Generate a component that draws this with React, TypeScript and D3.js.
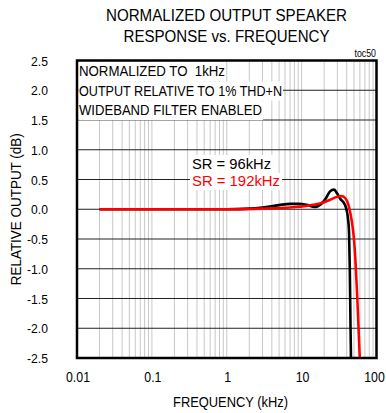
import React from 'react';
import * as d3 from 'd3';

// frequency in kHz, relative output in dB
const FREQ_96 = [0.02, 0.05, 0.1, 0.2, 0.5, 1, 2, 3, 5, 7, 9, 12, 15, 18, 21, 24, 27, 30, 33, 36, 38, 40, 42, 43, 44, 45, 46];
const OUT_96 = [0, 0, 0, 0, 0, 0, 0.01, 0.03, 0.07, 0.09, 0.09, 0.07, 0.04, 0.08, 0.18, 0.3, 0.33, 0.26, 0.17, 0.12, 0.07, -0.02, -0.2, -0.4, -1.0, -2.0, -2.8];

const FREQ_192 = [0.02, 0.05, 0.1, 0.2, 0.5, 1, 3, 7, 12, 18, 24, 30, 34, 38, 42, 45, 48, 50, 52, 55, 58, 60, 62];
const OUT_192 = [0, 0, 0, 0, 0, 0, 0.01, 0.03, 0.06, 0.1, 0.16, 0.21, 0.22, 0.19, 0.08, -0.08, -0.3, -0.5, -0.8, -1.4, -2.1, -2.55, -3.0];

const Y_TICKS = [2.5, 2.0, 1.5, 1.0, 0.5, 0.0, -0.5, -1.0, -1.5, -2.0, -2.5];
const X_TICKS = [0.01, 0.1, 1, 10, 100];
const X_LABELS = ['0.01', '0.1', '1', '10', '100'];
const NOTES = ['NORMALIZED TO  1kHz', 'OUTPUT RELATIVE TO 1% THD+N', 'WIDEBAND FILTER ENABLED'];
const NOTE_WIDTHS = [146, 203, 183];

const W = 386;
const H = 413;
const FONT = '"Liberation Sans", Arial, sans-serif';

// slightly narrow text like the original plot font
const NText: React.FC<{ x: number; y: number; size: number; sx?: number; anchor?: string; fill?: string; children: React.ReactNode }> =
  ({ x, y, size, sx = 0.88, anchor = 'start', fill = '#000', children }) => (
    <text transform={`translate(${x},${y}) scale(${sx},1)`} fontSize={size} textAnchor={anchor} fill={fill} style={{ whiteSpace: 'pre' }}>
      {children}
    </text>
  );

const App: React.FC = () => {
  const x = d3.scaleLog().domain([0.01, 100]).range([77, 376.5]);
  const y = d3.scaleLinear().domain([-2.5, 2.5]).range([358, 60.5]);

  // minor log grid: 2..9 of each decade
  const minor: number[] = [];
  for (let d = 0.01; d < 100; d *= 10) {
    for (let k = 2; k <= 9; k++) minor.push(+(d * k).toPrecision(3));
  }

  const line = d3.line<[number, number]>()
    .x(d => x(d[0]))
    .y(d => y(d[1]))
    .curve(d3.curveMonotoneX);

  const s96 = FREQ_96.map((f, i) => [f, OUT_96[i]] as [number, number]);
  const s192 = FREQ_192.map((f, i) => [f, OUT_192[i]] as [number, number]);

  const [x0, x1] = x.range();
  const [y0, y1] = [y(2.5), y(-2.5)];

  return (
    <div style={{ position: 'absolute', left: 0, top: 0 }}>
      <svg width={W} height={H} style={{ display: 'block', background: '#fff' }} fontFamily={FONT}>
        <defs>
          <clipPath id="plot">
            <rect x={x0} y={y0} width={x1 - x0} height={y1 - y0} />
          </clipPath>
        </defs>

        {/* title */}
        <text x={226.5} y={21} fontSize={15.6} textAnchor="middle" textLength={241} lengthAdjust="spacingAndGlyphs">NORMALIZED OUTPUT SPEAKER</text>
        <text x={226.5} y={42} fontSize={15.6} textAnchor="middle" textLength={206} lengthAdjust="spacingAndGlyphs">RESPONSE vs. FREQUENCY</text>
        <NText x={376} y={57} size={10} anchor="end">toc50</NText>

        {/* grid */}
        {minor.concat(X_TICKS.slice(1, -1)).map((f, i) => (
          <line key={'v' + i} x1={x(f)} x2={x(f)} y1={y0} y2={y1} stroke="#c8c8c8" strokeWidth={1} />
        ))}
        {Y_TICKS.slice(1, -1).map((v, i) => (
          <line key={'h' + i} x1={x0} x2={x1} y1={y(v)} y2={y(v)} stroke="#222" strokeWidth={1} />
        ))}

        {/* notes with white backgrounds */}
        {NOTES.map((t, i) => (
          <g key={'n' + i}>
            <rect x={78.5} y={62 + i * 19.6} width={NOTE_WIDTHS[i] + 1.5} height={19} fill="#fff" />
            <text x={79} y={76 + i * 19.6} fontSize={14} textLength={NOTE_WIDTHS[i]} lengthAdjust="spacingAndGlyphs" style={{ whiteSpace: 'pre' }}>{t}</text>
          </g>
        ))}

        {/* legend */}
        <rect x={190} y={155} width={84} height={18} fill="#fff" />
        <rect x={190} y={173} width={92} height={17} fill="#fff" />
        <text x={192} y={168.5} fontSize={14} textLength={79} lengthAdjust="spacingAndGlyphs" fill="#000">SR = 96kHz</text>
        <text x={192} y={186} fontSize={14} textLength={88} lengthAdjust="spacingAndGlyphs" fill="#ff0000">SR = 192kHz</text>

        {/* curves */}
        <g clipPath="url(#plot)">
          <path d={line(s96) ?? ''} fill="none" stroke="#000" strokeWidth={2.6} />
          <path d={line(s192) ?? ''} fill="none" stroke="#ff0000" strokeWidth={2.6} />
        </g>

        {/* frame */}
        <rect x={x0} y={y0} width={x1 - x0} height={y1 - y0} fill="none" stroke="#000" strokeWidth={2.5} />

        {/* y axis */}
        {Y_TICKS.map((v, i) => (
          <NText key={'yl' + i} x={48} y={y(v) + 5} size={13.5} sx={0.9} anchor="end">{v.toFixed(1)}</NText>
        ))}
        <text transform={`translate(21,${(y0 + y1) / 2}) rotate(-90)`} fontSize={14} textAnchor="middle" textLength={152} lengthAdjust="spacingAndGlyphs">RELATIVE OUTPUT (dB)</text>

        {/* x axis; the last label is pulled in so it stays inside the picture */}
        {X_TICKS.map((f, i) => (
          <NText key={'xl' + i} x={Math.min(x(f) + 1, W - 11.5)} y={382} size={14} sx={0.88} anchor="middle">{X_LABELS[i]}</NText>
        ))}
        <NText x={230.5} y={407} size={14} sx={0.92} anchor="middle">FREQUENCY (kHz)</NText>
      </svg>
    </div>
  );
};

export default App;
